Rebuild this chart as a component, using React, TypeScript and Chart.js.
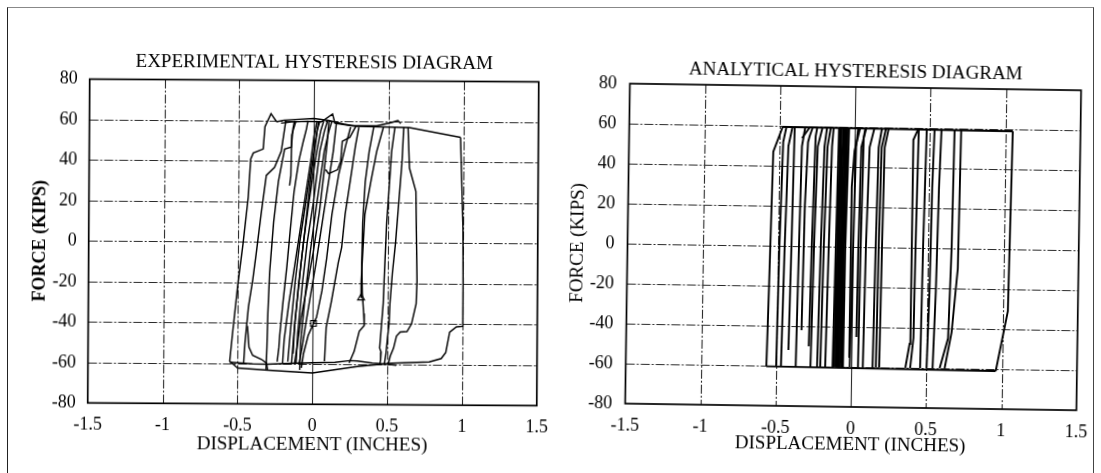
import React, { useEffect, useRef } from 'react';
import { Chart, registerables } from 'chart.js';

Chart.register(...registerables);

type Pt = [number, number];

// ---- axes ----
const xTickValues = [-1.5, -1, -0.5, 0, 0.5, 1, 1.5];
const xTickLabels = ['-1.5', '-1', '-0.5', '0', '0.5', '1', '1.5'];
const yTickValues = [-80, -60, -40, -20, 0, 20, 40, 60, 80];
const yTickLabels = ['-80', '-60', '-40', '-20', '0', '20', '40', '60', '80'];

const expTitle = 'EXPERIMENTAL HYSTERESIS DIAGRAM';
const anaTitle = 'ANALYTICAL HYSTERESIS DIAGRAM';
const xAxisTitle = 'DISPLACEMENT (INCHES)';
const yAxisTitle = 'FORCE (KIPS)';

// ---- experimental record: displacement (in), force (kips) ----
const expOuterRise: Pt[] = [[-0.50, -62.3], [-0.553, -59], [-0.535, -45], [-0.502, -21], [-0.469, -1], [-0.436, 22], [-0.421, 41], [-0.404, 44], [-0.338, 46], [-0.327, 57], [-0.287, 63.5], [-0.25, 59.5]];
const expTopPath: Pt[] = [[-0.25, 59.5], [-0.2, 60.3], [-0.1, 60.8], [0.0, 61.2], [0.1, 60.2], [0.2, 58.5], [0.28, 57.5], [0.45, 57.3], [0.637, 57], [0.98, 52.3]];
const expTopInner: Pt[] = [[-0.22, 58.8], [-0.15, 59.5], [-0.05, 59.8], [0.05, 59.6], [0.124, 63.5], [0.14, 59], [0.25, 57.8], [0.42, 57.8], [0.52, 59.5], [0.56, 60.5], [0.58, 59]];
const expOuterFall: Pt[] = [[0.98, 52.3], [0.99, 30], [1.0, 7], [1.003, -19], [1.003, -41], [0.96, -41.3], [0.915, -44], [0.89, -54], [0.86, -57], [0.78, -58.7], [0.53, -59.5], [0.3, -61.2], [0.0, -64.5], [-0.294, -63.3], [-0.50, -62.3]];
const expBottomInner: Pt[] = [[-0.553, -59.5], [-0.4, -60.2], [-0.3, -60.3], [-0.15, -59.8], [0.0, -59.5], [0.15, -59.2], [0.25, -58.3], [0.3, -58.5], [0.4, -59.5], [0.5, -60], [0.56, -60.5]];
const expRise2: Pt[] = [[-0.46, -60], [-0.452, -50], [-0.43, -32], [-0.403, -19], [-0.381, -6], [-0.349, 14], [-0.316, 33], [-0.261, 37], [-0.217, 45], [-0.188, 60]];
const expHookLeft: Pt[] = [[-0.436, -41.5], [-0.425, -52], [-0.40, -56], [-0.34, -58], [-0.307, -59.8], [-0.30, -63]];
const expRise3: Pt[] = [[-0.31, -63], [-0.305, -52], [-0.30, -35], [-0.29, -15], [-0.265, 10], [-0.235, 30], [-0.21, 40], [-0.195, 46], [-0.15, 47], [-0.14, 56], [-0.13, 60]];
const expRise4: Pt[] = [[-0.236, -59], [-0.225, -52], [-0.22, -46], [-0.2, -30], [-0.175, -12], [-0.155, 5], [-0.13, 25], [-0.1, 40], [-0.07, 50], [-0.05, 56], [-0.04, 60]];
const expStub: Pt[] = [[-0.12, 60], [-0.148, 53], [-0.152, 33], [-0.16, 28]];
const expCore1: Pt[] = [[-0.2, -60], [-0.19, -48], [-0.16, -30], [-0.13, -15], [-0.1, 0], [-0.06, 20], [-0.02, 40], [0.0, 52], [0.02, 60]];
const expCore2: Pt[] = [[-0.165, -59], [-0.15, -45], [-0.12, -20], [-0.09, 0], [-0.05, 20], [0.0, 45], [0.02, 55], [0.04, 60]];
const expCore3: Pt[] = [[-0.14, -60], [-0.125, -45], [-0.095, -20], [-0.065, 0], [-0.03, 20], [0.02, 45], [0.045, 55], [0.065, 60]];
const expCore4: Pt[] = [[-0.11, -60], [-0.1, -45], [-0.07, -20], [-0.04, 0], [0.0, 20], [0.04, 45], [0.07, 55], [0.09, 60]];
const expCore5: Pt[] = [[-0.085, -63], [-0.08, -50], [-0.05, -25], [-0.02, -5], [0.02, 18], [0.07, 45], [0.1, 55], [0.12, 60]];
const expCore6: Pt[] = [[-0.13, -55], [-0.12, -40], [-0.1, -25], [-0.08, -10], [-0.05, 10], [-0.02, 30], [0.01, 48], [0.03, 60]];
const expFall1: Pt[] = [[0.3, 57], [0.278, 47.7], [0.245, 30.5], [0.212, 14], [0.19, -2.5], [0.168, -10], [0.124, -29], [0.09, -42], [0.08, -58.7]];
const expFall2: Pt[] = [[0.245, 57], [0.212, 47.7], [0.168, 33.8], [0.124, 14], [0.09, -8], [0.06, -24], [0.025, -37], [0.0, -41], [-0.03, -46], [-0.06, -55], [-0.074, -62]];
const expFall3: Pt[] = [[0.15, 59], [0.13, 45], [0.1, 30], [0.06, 10], [0.02, -10], [-0.02, -28], [-0.05, -42], [-0.07, -52], [-0.09, -60]];
const expFall4: Pt[] = [[0.1, 60], [0.09, 50], [0.07, 35], [0.04, 15], [0.0, -5], [-0.04, -22], [-0.08, -38], [-0.1, -50], [-0.12, -60]];
const expKnot: Pt[] = [[0.28, 57.5], [0.24, 52], [0.19, 50], [0.18, 40], [0.16, 36], [0.1, 34], [0.08, 36]];
const expFall5: Pt[] = [[0.464, 57], [0.42, 45], [0.387, 32], [0.344, 14], [0.322, -19], [0.322, -27.3]];
const expFall6: Pt[] = [[0.40, 57.3], [0.37, 45], [0.345, 30], [0.33, 10], [0.325, -10], [0.33, -25], [0.34, -35], [0.344, -40.9], [0.311, -43.8], [0.278, -53.7], [0.245, -59.5]];
const expFall7: Pt[] = [[0.541, 57], [0.52, 45], [0.508, 30.5], [0.49, 10], [0.475, -19], [0.47, -30], [0.455, -45], [0.448, -52], [0.458, -54], [0.455, -58], [0.45, -60]];
const expFall8: Pt[] = [[0.60, 57], [0.59, 40], [0.57, 20], [0.55, 0], [0.53, -15], [0.515, -30], [0.51, -40], [0.5, -47], [0.49, -55], [0.48, -60]];
const expFall9: Pt[] = [[0.629, 57], [0.64, 37], [0.684, 25.5], [0.695, -19], [0.69, -30], [0.66, -40], [0.63, -43.8], [0.585, -44], [0.56, -46], [0.541, -52], [0.519, -56], [0.508, -59.5]];
const expTriangleMarks: Pt[] = [[0.322, -27.3]];
const expSquareMarks: Pt[] = [[0.005, -40]];

// ---- analytical model: displacement (in), force (kips) ----
const anaTop: Pt[] = [[-0.48, 59.5], [1.05, 59]];
const anaBottom: Pt[] = [[-0.565, -60.3], [0.96, -61]];
const anaOuterLeft: Pt[] = [[-0.565, -60.3], [-0.555, -20], [-0.54, 47], [-0.48, 59.5]];
const anaOuterRight: Pt[] = [[1.05, 59], [1.035, -31], [0.96, -61]];
const anaLeftBranches: Pt[][] = [
  [[-0.50, -60], [-0.49, 0], [-0.475, 52], [-0.455, 59.5]],
  [[-0.468, -60], [-0.455, 0], [-0.44, 50], [-0.415, 59.5]],
  [[-0.42, -52], [-0.41, 0], [-0.40, 59.5]],
  [[-0.37, -60], [-0.36, 0], [-0.35, 50], [-0.33, 59.5]],
  [[-0.335, -42], [-0.325, 20], [-0.31, 52], [-0.30, 55], [-0.28, 59.5]],
  [[-0.35, 54], [-0.30, 59.5]],
  [[-0.285, -50], [-0.275, 0], [-0.26, 55], [-0.25, 59.5]],
  [[-0.272, -60], [-0.26, 0], [-0.245, 50], [-0.215, 59.5]],
  [[-0.228, -60], [-0.215, 0], [-0.2, 50], [-0.185, 59.5]],
  [[-0.207, -60], [-0.195, 0], [-0.18, 50], [-0.16, 59.5]],
  [[-0.174, -60], [-0.162, 0], [-0.15, 50], [-0.141, 59.5]],
];
const anaCoreBranches: Pt[][] = [
  [[-0.125, -60], [-0.115, 0], [-0.105, 59.5]],
  [[-0.116, -60], [-0.106, 0], [-0.096, 59.5]],
  [[-0.107, -60], [-0.098, 0], [-0.088, 59.5]],
  [[-0.098, -60], [-0.09, 0], [-0.078, 59.5]],
  [[-0.09, -60], [-0.082, 0], [-0.07, 59.5]],
  [[-0.082, -60], [-0.075, 0], [-0.062, 59.5]],
  [[-0.074, -60], [-0.068, 0], [-0.055, 59.5]],
  [[-0.066, -60], [-0.061, 0], [-0.047, 59.5]],
  [[-0.056, -60], [-0.052, 0], [-0.038, 59.5]],
  [[-0.09, -55], [-0.1, 0], [-0.095, 40], [-0.06, 59.5]],
];
const anaNearZeroBranches: Pt[][] = [
  [[-0.011, -60], [0.0, 0], [0.01, 50], [0.022, 59.5]],
  [[0.03, -45], [0.035, 0], [0.045, 50], [0.076, 59.5]],
  [[0.044, -60], [0.05, 0], [0.06, 55], [0.07, 59.5]],
  [[-0.02, -55], [-0.015, 30], [0.0, 48], [0.035, 59.5]],
  [[0.076, -60], [0.085, 0], [0.1, 50], [0.13, 59.5]],
  [[0.141, -60], [0.15, 0], [0.16, 50], [0.18, 59.5]],
  [[0.163, -60], [0.17, 0], [0.18, 50], [0.207, 59.5]],
  [[0.185, -60], [0.192, 0], [0.2, 50], [0.225, 59.5]],
];
const anaRightBranches: Pt[][] = [
  [[0.359, -60], [0.385, -48], [0.39, 0], [0.39, 54], [0.42, 59.2]],
  [[0.391, -60], [0.41, -45], [0.415, 0], [0.425, 59.2]],
  [[0.457, -60], [0.465, 0], [0.478, 59.2]],
  [[0.50, -60], [0.512, -22], [0.52, 30], [0.53, 59.2]],
  [[0.54, -60], [0.554, -22], [0.565, 30], [0.576, 59.2]],
  [[0.587, -60], [0.64, -45], [0.655, 0], [0.663, 59.2]],
  [[0.62, -60], [0.663, -42], [0.687, -20], [0.698, -10], [0.707, 59.2]],
];

const FONT = "'Liberation Serif', 'Times New Roman', Times, serif";
const INK = '#000';

interface PanelSpec {
  left: number;
  width: number;
  tilt: number;
  pivot: string;
  title: string;
  traces: Pt[][];
  triangles: Pt[];
  squares: Pt[];
  lineWidth: number;
  axisWidth: number;
  padRight: number;
  titlePadTop: number;
  titlePadBottom: number;
  xAxisHeight: number;
  xTitlePadBottom: number;
  yTickPad: number;
  yTitleSize: number;
  yTitlePadTop: number;
  yTitleBold: boolean;
}

const expPanel: PanelSpec = {
  left: 0,
  width: 560,
  tilt: 0.35,
  pivot: '316px 242px',
  title: expTitle,
  traces: [
    expOuterRise, expTopPath, expTopInner, expOuterFall, expBottomInner,
    expRise2, expHookLeft, expRise3, expRise4, expStub,
    expCore1, expCore2, expCore3, expCore4, expCore5, expCore6,
    expFall1, expFall2, expFall3, expFall4, expKnot,
    expFall5, expFall6, expFall7, expFall8, expFall9,
  ],
  triangles: expTriangleMarks,
  squares: expSquareMarks,
  lineWidth: 1.45,
  axisWidth: 88.7,
  padRight: 17,
  titlePadTop: 51.6,
  titlePadBottom: 6.1,
  xAxisHeight: 68.7,
  xTitlePadBottom: 16.6,
  yTickPad: 12,
  yTitleSize: 18,
  yTitlePadTop: 29.2,
  yTitleBold: true,
};

const anaPanel: PanelSpec = {
  left: 560,
  width: 541,
  tilt: 0.85,
  pivot: '297px 247px',
  title: anaTitle,
  traces: [
    anaTop, anaBottom, anaOuterLeft, anaOuterRight,
    ...anaLeftBranches, ...anaCoreBranches, ...anaNearZeroBranches, ...anaRightBranches,
  ],
  triangles: [],
  squares: [],
  lineWidth: 1.9,
  axisWidth: 67.5,
  padRight: 13.6,
  titlePadTop: 60.6,
  titlePadBottom: 3.6,
  xAxisHeight: 66,
  xTitlePadBottom: 16.6,
  yTickPad: 13,
  yTitleSize: 19,
  yTitlePadTop: 6.6,
  yTitleBold: false,
};

// dashed paper grid plus the solid plot frame
const paperGrid = {
  id: 'paperGrid',
  beforeDatasetsDraw(chart: any) {
    const { ctx, chartArea: a, scales } = chart;
    const xs = scales.x;
    const ys = scales.y;
    ctx.save();
    ctx.strokeStyle = '#2a2a2a';
    ctx.lineWidth = 1.1;
    for (const v of xTickValues) {
      if (v === xs.min || v === xs.max) continue;
      const px = Math.round(xs.getPixelForValue(v)) + 0.5;
      ctx.setLineDash(v === 0 ? [] : [9, 2, 2, 2]);
      ctx.beginPath();
      ctx.moveTo(px, a.top);
      ctx.lineTo(px, a.bottom);
      ctx.stroke();
    }
    for (const v of yTickValues) {
      if (v === ys.min || v === ys.max) continue;
      const py = Math.round(ys.getPixelForValue(v)) + 0.5;
      ctx.setLineDash([9, 2, 2, 2]);
      ctx.beginPath();
      ctx.moveTo(a.left, py);
      ctx.lineTo(a.right, py);
      ctx.stroke();
    }
    ctx.setLineDash([]);
    ctx.strokeStyle = INK;
    ctx.lineWidth = 1.7;
    ctx.strokeRect(a.left, a.top, a.right - a.left, a.bottom - a.top);
    ctx.restore();
  },
};

function buildConfig(spec: PanelSpec): any {
  const lineSets = spec.traces.map((t) => ({
    data: t.map(([x, y]) => ({ x, y })),
    showLine: true,
    borderColor: INK,
    borderWidth: spec.lineWidth,
    pointRadius: 0,
    tension: 0,
    fill: false,
  }));
  const markSets = [
    { pts: spec.triangles, style: 'triangle' },
    { pts: spec.squares, style: 'rect' },
  ]
    .filter((m) => m.pts.length > 0)
    .map((m) => ({
      data: m.pts.map(([x, y]) => ({ x, y })),
      showLine: false,
      pointStyle: m.style,
      pointRadius: 4,
      pointBorderColor: INK,
      pointBackgroundColor: 'rgba(255,255,255,0)',
      pointBorderWidth: 1.1,
    }));

  const tickFont = { family: FONT, size: 18 };
  return {
    type: 'scatter',
    data: { datasets: [...lineSets, ...markSets] },
    options: {
      animation: false,
      responsive: false,
      devicePixelRatio: 1,
      events: [],
      layout: { padding: { left: 0, right: spec.padRight, top: 0, bottom: 0 } },
      plugins: {
        legend: { display: false },
        tooltip: { enabled: false },
        title: {
          display: true,
          text: spec.title,
          fullSize: false,
          color: INK,
          font: { family: FONT, size: 19, weight: 'normal' },
          padding: { top: spec.titlePadTop, bottom: spec.titlePadBottom },
        },
      },
      scales: {
        x: {
          type: 'linear',
          min: -1.5,
          max: 1.5,
          afterBuildTicks: (s: any) => {
            s.ticks = xTickValues.map((value) => ({ value }));
          },
          afterFit: (s: any) => {
            s.height = spec.xAxisHeight;
          },
          ticks: {
            autoSkip: false,
            maxRotation: 0,
            padding: 11,
            color: INK,
            font: tickFont,
            callback: (v: number) => xTickLabels[xTickValues.indexOf(v)],
          },
          grid: { display: false, drawTicks: false },
          border: { display: false },
          title: {
            display: true,
            text: xAxisTitle,
            color: INK,
            font: { family: FONT, size: 19 },
            padding: { top: 0, bottom: spec.xTitlePadBottom },
          },
        },
        y: {
          type: 'linear',
          min: -80,
          max: 80,
          afterBuildTicks: (s: any) => {
            s.ticks = yTickValues.map((value) => ({ value }));
          },
          afterFit: (s: any) => {
            s.width = spec.axisWidth;
          },
          ticks: {
            autoSkip: false,
            padding: spec.yTickPad,
            color: INK,
            font: tickFont,
            callback: (v: number) => yTickLabels[yTickValues.indexOf(v)],
          },
          grid: { display: false, drawTicks: false },
          border: { display: false },
          title: {
            display: true,
            text: yAxisTitle,
            color: INK,
            font: { family: FONT, size: spec.yTitleSize, weight: spec.yTitleBold ? 'bold' : 'normal' },
            padding: { top: spec.yTitlePadTop, bottom: 0 },
          },
        },
      },
    },
    plugins: [paperGrid],
  };
}

function Panel({ spec }: { spec: PanelSpec }) {
  const ref = useRef<HTMLCanvasElement>(null);
  useEffect(() => {
    if (!ref.current) return;
    const chart = new Chart(ref.current, buildConfig(spec));
    return () => chart.destroy();
  }, [spec]);
  return (
    <canvas
      ref={ref}
      width={spec.width}
      height={473}
      style={{
        position: 'absolute',
        left: spec.left,
        top: 0,
        width: spec.width,
        height: 473,
        transform: `rotate(${spec.tilt}deg)`,
        transformOrigin: spec.pivot,
      }}
    />
  );
}

export default function App() {
  return (
    <div style={{ position: 'fixed', left: 0, top: 0, width: 1101, height: 473, background: '#fff', overflow: 'hidden' }}>
      <div
        style={{
          position: 'absolute',
          left: 7,
          top: 7,
          width: 1085,
          height: 480,
          borderLeft: '1px solid #222',
          borderTop: '1px solid #888',
          borderRight: '1px solid #444',
        }}
      />
      <Panel spec={expPanel} />
      <Panel spec={anaPanel} />
    </div>
  );
}
